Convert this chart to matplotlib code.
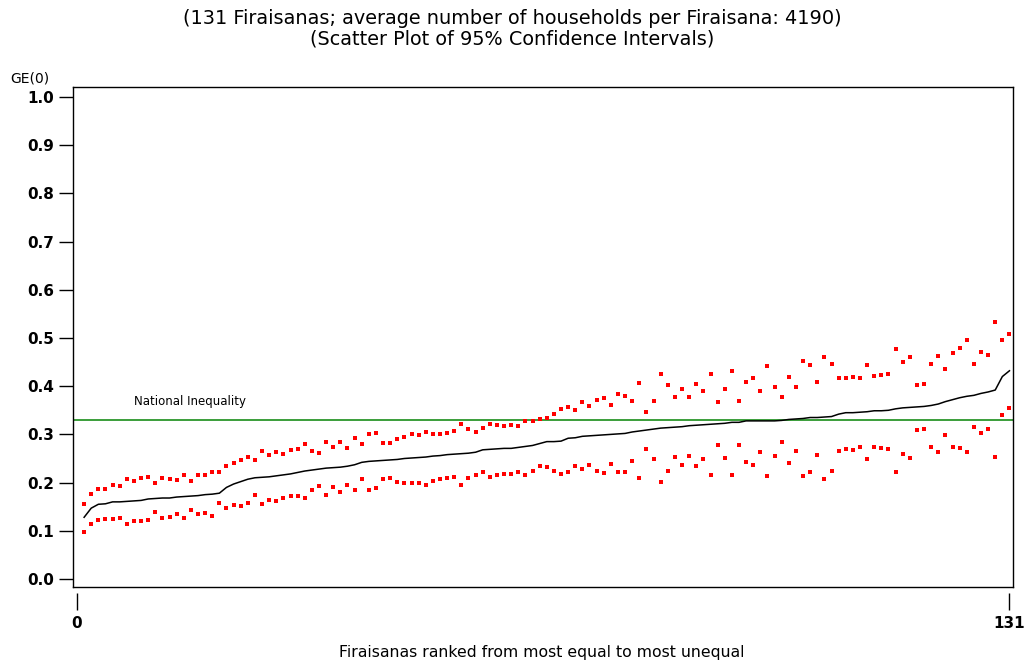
import numpy as np
import matplotlib
matplotlib.use('Agg')
import matplotlib.pyplot as plt

# GE(0) estimates per Firaisana, ranked, with 95% CI bounds
ge = [0.128, 0.147, 0.155, 0.156, 0.160, 0.160, 0.161, 0.162, 0.163, 0.166,
      0.167, 0.168, 0.168, 0.170, 0.171, 0.172, 0.173, 0.175, 0.176, 0.178,
      0.190, 0.197, 0.202, 0.207, 0.210, 0.211, 0.212, 0.214, 0.216, 0.218,
      0.221, 0.224, 0.226, 0.228, 0.230, 0.231, 0.232, 0.234, 0.237, 0.242,
      0.244, 0.245, 0.246, 0.247, 0.248, 0.250, 0.251, 0.252, 0.253, 0.255,
      0.256, 0.258, 0.259, 0.260, 0.261, 0.263, 0.268, 0.269, 0.270, 0.271,
      0.271, 0.273, 0.275, 0.277, 0.281, 0.285, 0.285, 0.286, 0.292, 0.293,
      0.296, 0.297, 0.298, 0.299, 0.300, 0.301, 0.302, 0.305, 0.307, 0.309,
      0.311, 0.313, 0.314, 0.315, 0.316, 0.318, 0.319, 0.320, 0.321, 0.322,
      0.323, 0.325, 0.325, 0.328, 0.328, 0.328, 0.328, 0.328, 0.329, 0.331,
      0.332, 0.333, 0.335, 0.335, 0.336, 0.337, 0.342, 0.345, 0.345, 0.346,
      0.347, 0.349, 0.349, 0.350, 0.353, 0.355, 0.356, 0.357, 0.358, 0.360,
      0.363, 0.368, 0.372, 0.376, 0.379, 0.381, 0.385, 0.388, 0.392, 0.420,
      0.432]

upper = [0.155, 0.176, 0.187, 0.187, 0.194, 0.193, 0.207, 0.204, 0.209, 0.212,
         0.199, 0.210, 0.208, 0.206, 0.216, 0.204, 0.216, 0.215, 0.223, 0.223,
         0.234, 0.241, 0.247, 0.253, 0.246, 0.266, 0.257, 0.264, 0.259, 0.268,
         0.270, 0.280, 0.266, 0.261, 0.285, 0.274, 0.284, 0.272, 0.292, 0.280,
         0.301, 0.302, 0.282, 0.283, 0.291, 0.294, 0.300, 0.299, 0.304, 0.300,
         0.301, 0.303, 0.308, 0.322, 0.312, 0.305, 0.313, 0.322, 0.319, 0.317,
         0.319, 0.317, 0.328, 0.327, 0.331, 0.333, 0.343, 0.352, 0.357, 0.350,
         0.367, 0.358, 0.371, 0.376, 0.360, 0.383, 0.380, 0.369, 0.406, 0.346,
         0.369, 0.425, 0.402, 0.378, 0.394, 0.378, 0.405, 0.389, 0.425, 0.367,
         0.394, 0.432, 0.369, 0.408, 0.416, 0.390, 0.442, 0.399, 0.377, 0.420,
         0.399, 0.452, 0.444, 0.409, 0.461, 0.446, 0.418, 0.418, 0.420, 0.416,
         0.444, 0.421, 0.423, 0.425, 0.477, 0.451, 0.461, 0.402, 0.404, 0.446,
         0.463, 0.435, 0.469, 0.479, 0.496, 0.447, 0.470, 0.464, 0.533, 0.496,
         0.508]

lower = [0.098, 0.114, 0.122, 0.124, 0.124, 0.126, 0.114, 0.120, 0.121, 0.122,
         0.138, 0.127, 0.129, 0.134, 0.127, 0.143, 0.134, 0.136, 0.131, 0.157,
         0.148, 0.153, 0.152, 0.157, 0.174, 0.156, 0.164, 0.162, 0.169, 0.172,
         0.173, 0.169, 0.185, 0.192, 0.174, 0.190, 0.180, 0.196, 0.185, 0.207,
         0.185, 0.188, 0.208, 0.210, 0.201, 0.199, 0.199, 0.199, 0.196, 0.204,
         0.207, 0.209, 0.211, 0.196, 0.209, 0.216, 0.222, 0.212, 0.216, 0.218,
         0.218, 0.223, 0.216, 0.224, 0.234, 0.232, 0.225, 0.218, 0.223, 0.234,
         0.228, 0.237, 0.225, 0.219, 0.239, 0.221, 0.223, 0.244, 0.209, 0.270,
         0.249, 0.202, 0.225, 0.254, 0.237, 0.256, 0.234, 0.248, 0.216, 0.277,
         0.251, 0.216, 0.279, 0.243, 0.237, 0.263, 0.214, 0.256, 0.284, 0.241,
         0.265, 0.214, 0.222, 0.258, 0.207, 0.225, 0.265, 0.270, 0.268, 0.274,
         0.248, 0.274, 0.272, 0.270, 0.221, 0.259, 0.251, 0.310, 0.311, 0.274,
         0.264, 0.299, 0.274, 0.272, 0.263, 0.315, 0.303, 0.311, 0.254, 0.340,
         0.354]

national = 0.330
rank = np.arange(1, len(ge) + 1)

fig = plt.figure(figsize=(10.24, 6.62), dpi=100)
ax = fig.add_axes([0.0713, 0.1133, 0.9177, 0.7553])

ax.plot(rank, ge, color='black', lw=1.1, zorder=3)
ax.plot(rank, upper, 's', color='red', ms=2.6, mew=0, zorder=4)
ax.plot(rank, lower, 's', color='red', ms=2.6, mew=0, zorder=4)
ax.axhline(national, color='#3a9e3a', lw=1.4, zorder=2)
ax.text(8, 0.355, 'National Inequality', fontsize=8.5, ha='left', va='bottom')

ax.set_xlim(-0.56, 131.46)
ax.set_ylim(-0.0166, 1.0207)

ax.set_yticks(np.arange(0, 1.01, 0.1))
ax.set_yticklabels(['%.1f' % v for v in np.arange(0, 1.01, 0.1)],
                   fontweight='bold', fontsize=11)
ax.tick_params(axis='y', direction='out', length=10, width=1, pad=3.5)

# x ticks hang below the box, detached from it
ax.spines['bottom'].set_position(('outward', 4))
ax.spines['bottom'].set_visible(False)
ax.plot([0, 1], [0, 0], transform=ax.transAxes, color='black', lw=1,
        clip_on=False, zorder=5)
ax.set_xticks([0, 131])
ax.set_xticklabels(['0', '131'], fontweight='bold', fontsize=11)
ax.tick_params(axis='x', direction='out', length=12, width=1, pad=5)

for s in ['left', 'right', 'top']:
    ax.spines[s].set_linewidth(1)

fig.text(0.529, 0.015, 'Firaisanas ranked from most equal to most unequal',
         fontsize=11.3, ha='center', va='center')
fig.text(0.010, 0.882, 'GE(0)', fontsize=10, ha='left', va='center')

fig.text(0.5, 0.972, '(131 Firaisanas; average number of households per Firaisana: 4190)',
         ha='center', va='center', fontsize=13.9)
fig.text(0.5, 0.941, '(Scatter Plot of 95% Confidence Intervals)',
         ha='center', va='center', fontsize=13.9)

fig.savefig('out.png', dpi=100)
